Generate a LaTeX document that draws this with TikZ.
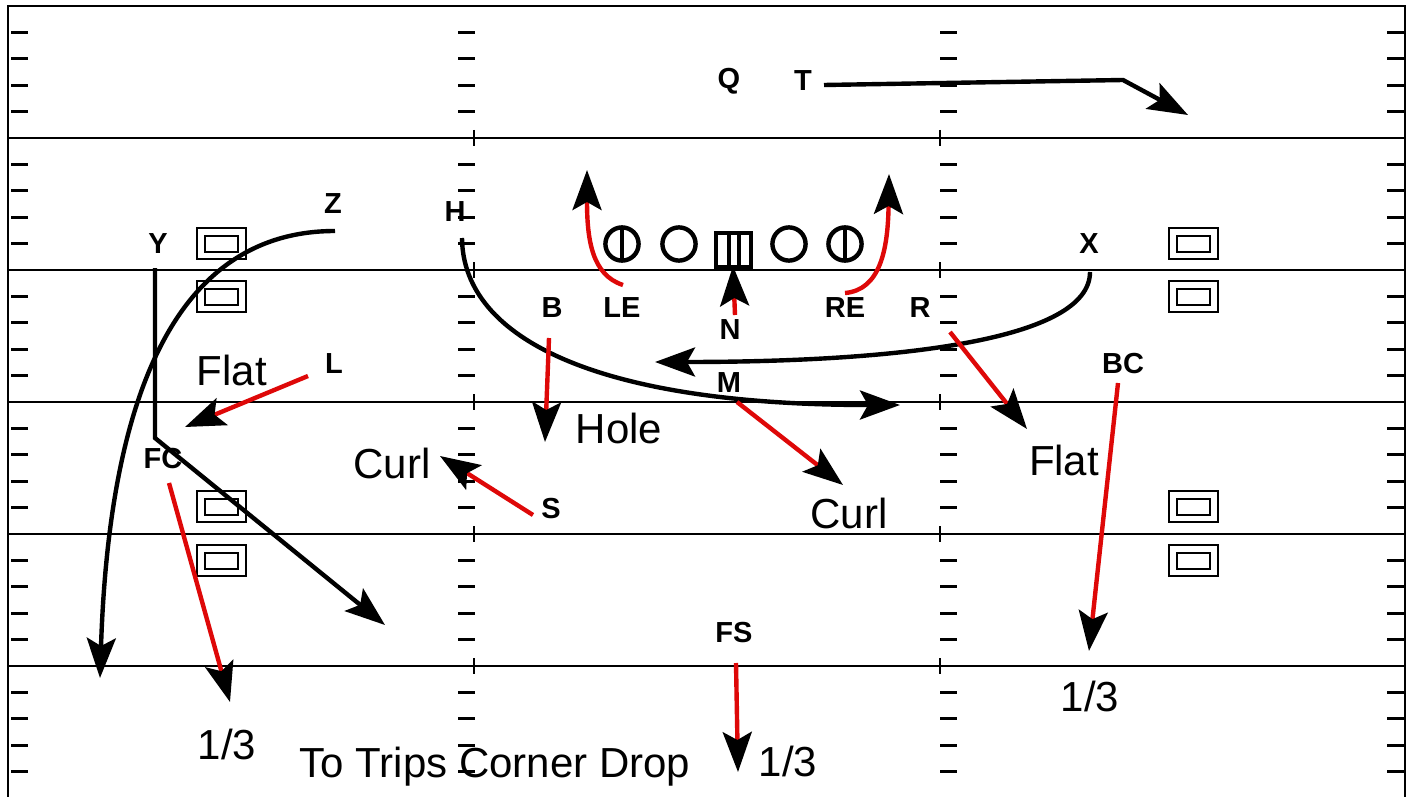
\documentclass[tikz,border=0pt]{standalone}
\usepackage{fontspec}
\setmainfont{Liberation Sans}
\usetikzlibrary{arrows.meta}
\definecolor{routered}{RGB}{222,8,8}
\tikzset{
  fieldline/.style={line width=1.25pt},
  hashmark/.style={line width=1.4pt},
  player/.style={inner sep=0pt, font=\bfseries\fontsize{14.5}{17}\selectfont},
  zone/.style={inner sep=0pt, font=\fontsize{21}{25}\selectfont},
  route/.style={line width=2.2pt, -{Stealth[length=20pt,width=14.5pt,inset=4pt]}},
  redroute/.style={line width=2.2pt, draw=routered, -{Stealth[length=20pt,width=14.5pt,inset=4pt,color=black]}},
  lineman/.style={line width=2.2pt},
}
\begin{document}
\begin{tikzpicture}[x=0.5pt, y=-0.5pt]
    \useasboundingbox (0,0) rectangle (1413,797);
    % Draw the field
    \draw[fieldline] (8,797) -- (8,6) -- (1405,6) -- (1405,797);
    \foreach \y in {138,270,402,534,666} {
            \draw[fieldline] (8,\y) -- (1405,\y);
            \draw[hashmark] (474,\y-8) -- (474,\y+8);
            \draw[hashmark] (940,\y-8) -- (940,\y+8);
        }
    % Hash marks, four per band
    \foreach \k in {0,...,5} {
            \foreach \j in {1,...,4} {
                    \pgfmathsetmacro{\hy}{6+132*\k+26.4*\j}
                    \foreach \hx in {11,458,940,1387} {
                            \draw[hashmark] (\hx,\hy) -- (\hx+17,\hy);
                        }
                }
        }
    % Boxes on both sides
    \foreach \bx in {197,1169} {
            \foreach \by in {228,281,491,545} {
                    \draw[line width=1.3pt] (\bx,\by) rectangle ++(49,31);
                    \draw[line width=1.3pt] (\bx+8,\by+8) rectangle ++(33,16);
                }
        }
    % Offensive line
    \draw[lineman] (622,244) circle (8.3pt);
    \draw[lineman] (622,228) -- (622,260);
    \draw[lineman] (679,244) circle (8.3pt);
    \draw[lineman] (716,233) rectangle (751,267);
    \draw[lineman] (729,233) -- (729,267);
    \draw[lineman] (739,233) -- (739,267);
    \draw[lineman] (789,244) circle (8.3pt);
    \draw[lineman] (845,244) circle (8.3pt);
    \draw[lineman] (845,228) -- (845,260);
    % Players
    \node[player] (Q) at (729,81) {Q};
    \node[player] (T) at (803,81) {T};
    \node[player] (Z) at (333,204) {Z};
    \node[player] (H) at (455,212) {H};
    \node[player] (Y) at (158,244) {Y};
    \node[player] (X) at (1089,244) {X};
    \node[player] (B) at (552,308) {B};
    \node[player] (LE) at (622,308) {LE};
    \node[player] (RE) at (845,308) {RE};
    \node[player] (R) at (920,308) {R};
    \node[player] (N) at (730,330) {N};
    \node[player] (L) at (334,364) {L};
    \node[player] (BC) at (1123,364) {BC};
    \node[player] (M) at (729,383) {M};
    \node[player] (FC) at (163,459) {FC};
    \node[player] (S) at (551,509) {S};
    \node[player] (FS) at (734,633) {FS};
    % Zone labels
    \node[zone] (flatL) at (232,370) {Flat};
    \node[zone] (curlL) at (392,463) {Curl};
    \node[zone] (hole) at (619,428) {Hole};
    \node[zone] (curlR) at (849,513) {Curl};
    \node[zone] (flatR) at (1064,460) {Flat};
    \node[zone] (thirdL) at (227,744) {1/3};
    \node[zone] (thirdR) at (1090,696) {1/3};
    \node[zone] (thirdM) at (788,761) {1/3};
    \node[zone] (title) at (495,767) {To Trips Corner Drop};
    % Route points
    \coordinate (T-go) at (824,85);
    \coordinate (T-cut) at (1123,80);
    \coordinate (T-end) at (1188,115);
    \coordinate (Z-go) at (335,231);
    \coordinate (Z-end) at (100,678);
    \coordinate (Y-go) at (155,268);
    \coordinate (Y-cut) at (155,438);
    \coordinate (Y-end) at (385,625);
    \coordinate (H-go) at (462,238);
    \coordinate (H-end) at (900,405);
    \coordinate (X-go) at (1090,272);
    \coordinate (X-end) at (655,362);
    \coordinate (LE-go) at (623,285);
    \coordinate (LE-end) at (587,170);
    \coordinate (RE-go) at (845,293);
    \coordinate (RE-end) at (889,174);
    \coordinate (N-go) at (735,315);
    \coordinate (N-end) at (733,266);
    \coordinate (B-go) at (549,338);
    \coordinate (B-end) at (545,442);
    \coordinate (R-go) at (950,332);
    \coordinate (R-end) at (1027,429);
    \coordinate (M-go) at (737,402);
    \coordinate (M-end) at (843,485);
    \coordinate (S-go) at (533,515);
    \coordinate (S-end) at (440,456);
    \coordinate (L-go) at (308,376);
    \coordinate (L-end) at (185,427);
    \coordinate (FC-go) at (169,483);
    \coordinate (FC-end) at (230,702);
    \coordinate (BC-go) at (1118,383);
    \coordinate (BC-end) at (1089,651);
    \coordinate (FS-go) at (736,663);
    \coordinate (FS-end) at (738,772);
    % Offense routes
    \draw[route] (T-go) -- (T-cut) -- (T-end);
    \draw[route] (Z-go) .. controls (160,231) and (108,430) .. (Z-end);
    \draw[route] (Y-go) -- (Y-cut) -- (Y-end);
    \draw[route] (H-go) .. controls (463,340) and (600,405) .. (H-end);
    \draw[route] (X-go) .. controls (1090,340) and (900,362) .. (X-end);
    % Defense drops
    \draw[redroute] (LE-go) .. controls (592,275) and (587,240) .. (LE-end);
    \draw[redroute] (RE-go) .. controls (880,290) and (888,250) .. (RE-end);
    \draw[redroute] (N-go) -- (N-end);
    \draw[redroute] (B-go) -- (B-end);
    \draw[redroute] (R-go) -- (R-end);
    \draw[redroute] (M-go) -- (M-end);
    \draw[redroute] (S-go) -- (S-end);
    \draw[redroute] (L-go) -- (L-end);
    \draw[redroute] (FC-go) -- (FC-end);
    \draw[redroute] (BC-go) -- (BC-end);
    \draw[redroute] (FS-go) -- (FS-end);
\end{tikzpicture}
\end{document}
